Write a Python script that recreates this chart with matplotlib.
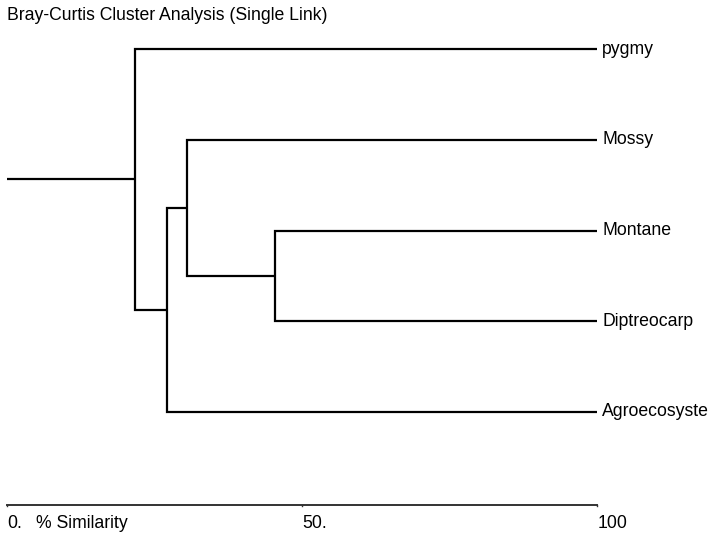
import matplotlib
matplotlib.use("Agg")
import matplotlib.pyplot as plt

# leaves, top to bottom
leaves = ["pygmy", "Mossy", "Montane", "Diptreocarp", "Agroecosyste"]
# merge steps: (left member, right member, % similarity); ints are leaf indices, "cN" earlier clusters
merge_a = [2, 1, "c1", 0]
merge_b = [3, "c0", 4, "c2"]
merge_sim = [45.4, 30.5, 27.2, 21.7]
tick_vals = [0, 50, 100]
tick_labels = ["0.", "50.", "100"]

plt.rcParams['font.family'] = ['Liberation Sans Narrow', 'Liberation Sans', 'DejaVu Sans']
fs = 12.7

fig = plt.figure(figsize=(7.17, 5.38), dpi=100)
ax = fig.add_axes([0, 0, 1, 1])
ax.set_xlim(-7 / 5.9, 710 / 5.9)
ax.set_ylim(489 / 90.75, -49 / 90.75)
ax.axis('off')

lw = 1.6
# each node: (y position, x position of its start)
nodes = {i: (i, 100.0) for i in range(len(leaves))}
for k, (a, b, s) in enumerate(zip(merge_a, merge_b, merge_sim)):
    ya, xa = nodes[a]
    yb, xb = nodes[b]
    ax.plot([xa, s, s, xb], [ya, ya, yb, yb], color='black', lw=lw,
            solid_joinstyle='miter', solid_capstyle='butt')
    nodes["c%d" % k] = ((ya + yb) / 2, s)

# root stub
yr, xr = nodes["c%d" % (len(merge_sim) - 1)]
ax.plot([0, xr], [yr, yr], color='black', lw=lw, solid_capstyle='butt')

for i, name in enumerate(leaves):
    ax.text(100.9, i, name, ha='left', va='center', fontsize=fs)

# similarity scale
y_axis = 5.025
ax.plot([tick_vals[0], tick_vals[-1]], [y_axis, y_axis], color='#333333', lw=1.4)
for v, lab in zip(tick_vals, tick_labels):
    ax.plot([v, v], [y_axis, y_axis + 0.015], color='#333333', lw=1)
    ax.text(v + 0.1, y_axis + 0.2, lab, ha='left', va='center', fontsize=fs)
ax.text(5, y_axis + 0.2, "% Similarity", ha='left', va='center', fontsize=fs)

fig.text(7 / 717, 1 - 15 / 538, "Bray-Curtis Cluster Analysis (Single Link)",
         ha='left', va='center', fontsize=fs)

fig.savefig("out.png", dpi=100)
